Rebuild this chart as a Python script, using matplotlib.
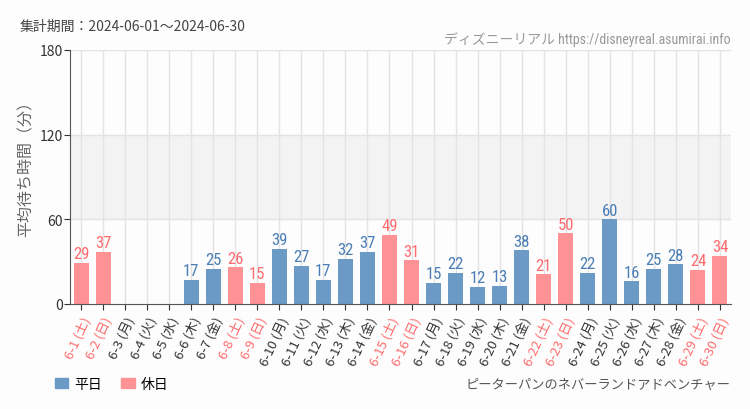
import matplotlib
matplotlib.use("Agg")
import matplotlib.pyplot as plt
from matplotlib.patches import Patch
from matplotlib import font_manager
import numpy as np

plt.rcParams['font.family'] = ['Noto Sans CJK JP', 'DejaVu Sans']

# narrow font for numbers, whatever is installed
names = set(f.name for f in font_manager.fontManager.ttflist)
narrow = 'DejaVu Sans'
for cand in ['Roboto Condensed', 'Liberation Sans Narrow', 'DejaVu Sans Condensed', 'Open Sans Condensed']:
    if cand in names:
        narrow = cand
        break

days = list(range(1, 31))
weekdays = ['土', '日', '月', '火', '水', '木', '金'] * 5
weekdays = weekdays[:30]
waits = [29, 37, None, None, None, 17, 25, 26, 15, 39, 27, 17, 32, 37, 49,
         31, 15, 22, 12, 13, 38, 21, 50, 22, 60, 16, 25, 28, 24, 34]
holiday = [w in ('土', '日') for w in weekdays]
labels = [f"6-{d} ({w})" for d, w in zip(days, weekdays)]

blue = '#6b9ac7'
pink = '#ff9294'
blue_txt = '#4a7db5'
pink_txt = '#ff6b6e'

fig = plt.figure(figsize=(7.5, 4.1), dpi=100, facecolor='#fcfdfc')
ax = fig.add_axes([70/750, 1-305/410, 661/750, 254/410])
ax.set_facecolor('#fcfdfc')

x = np.arange(len(days))
ax.axhspan(60, 120, color='#f3f3f3', zorder=0)
for xi in x:
    ax.axvline(xi, color='#e3e3e3', lw=1, zorder=0.5)
for yy in [60, 120, 180]:
    ax.axhline(yy, color='#e3e3e3', lw=1, zorder=0.5)

for xi, v, h in zip(x, waits, holiday):
    if v is None:
        continue
    ax.bar(xi, v, width=0.68, color=pink if h else blue, zorder=2)
    ax.text(xi, v + 1.2, str(v), ha='center', va='bottom',
            color=pink_txt if h else blue_txt, fontsize=12,
            family=[narrow, 'DejaVu Sans'], fontstretch='condensed')

ax.set_xlim(-0.5, len(days) - 0.5)
ax.set_ylim(0, 180)
ax.set_yticks([0, 60, 120, 180])
ax.tick_params(axis='y', labelsize=10, colors='#333333', length=4, pad=1)
ax.set_xticks(x)
ax.set_xticklabels(labels, rotation=65, ha='right', rotation_mode='anchor', fontsize=9.5)
ax.tick_params(axis='x', length=4, colors='#333333')
for lab, h in zip(ax.get_xticklabels(), holiday):
    lab.set_color(pink_txt if h else '#333333')
for s in ['top', 'right']:
    ax.spines[s].set_visible(False)
ax.spines['left'].set_color('#555555')
ax.spines['bottom'].set_color('#555555')
ax.set_ylabel('平均待ち時間（分）', fontsize=11.5, color='#666666', labelpad=0)
ax.yaxis.set_label_coords(-0.053, 0.55)

fig.text(20/750, 1-27/410, '集計期間：2024-06-01～2024-06-30', fontsize=10,
         color='#444444', va='center')
fig.text(731/750, 1-40/410, 'ディズニーリアル https://disneyreal.asumirai.info', fontsize=10,
         color='#999999', va='center', ha='right',
         family=[narrow, 'Noto Sans CJK JP'], fontstretch='condensed')
fig.text(731/750, 1-385/410, 'ピーターパンのネバーランドアドベンチャー', fontsize=9.5,
         color='#555555', va='center', ha='right')

handles = [Patch(color=blue, label='平日'), Patch(color=pink, label='休日')]
fig.legend(handles=handles, loc='center left', bbox_to_anchor=(42/750, 1-385/410),
           ncol=2, frameon=False, fontsize=10, handlelength=1.0, handleheight=0.7,
           columnspacing=1.4, handletextpad=0.4)

fig.savefig('out.png', dpi=100, facecolor=fig.get_facecolor())
